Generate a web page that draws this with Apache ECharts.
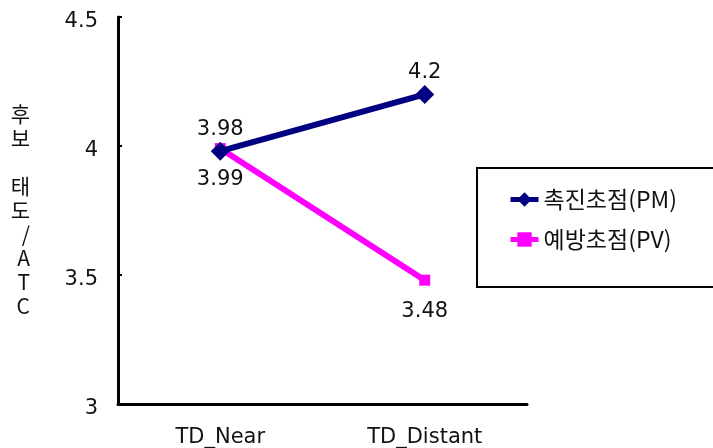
<!DOCTYPE html>
<html>
<head>
<meta charset="utf-8">
<script src="https://cdn.jsdelivr.net/npm/echarts@6/dist/echarts.min.js"></script>
<style>
  html, body { margin: 0; padding: 0; background: #fff; }
  #chart { width: 713px; height: 448px; }
</style>
</head>
<body>
<div id="chart"></div>
<script>
// Construal-level conditions and mean attitude scores per regulatory focus group
const categories = ['TD_Near', 'TD_Distant'];
const promotionValues = [3.98, 4.2];   // 촉진초점(PM)
const preventionValues = [3.99, 3.48]; // 예방초점(PV)
const yTicks = [3, 3.5, 4, 4.5];
const seriesNames = ['촉진초점(PM)', '예방초점(PV)'];
const yAxisTitle = '후\n보\n\n태\n도\n/\nA\nT\nC';

const FONT = '"DejaVu Sans", "Noto Sans CJK KR", sans-serif';
const KR_FONT = '"Noto Sans CJK KR", "DejaVu Sans", sans-serif';
const chart = echarts.init(document.getElementById('chart'));

chart.setOption({
  animation: false,
  backgroundColor: '#fff',
  grid: { left: 118, right: 186, top: 17, bottom: 43 },
  legend: {
    orient: 'vertical',
    left: 503,
    top: 183,
    itemWidth: 28,
    itemHeight: 18,
    itemGap: 17,
    lineStyle: { width: 5 },
    data: seriesNames,
    textStyle: { fontFamily: KR_FONT, fontSize: 23, color: '#111' }
  },
  graphic: [{
    type: 'rect',
    shape: { x: 477, y: 168, width: 300, height: 119 },
    style: { fill: 'none', stroke: '#000', lineWidth: 2 },
    z: -1
  }],
  xAxis: {
    type: 'category',
    data: categories,
    boundaryGap: true,
    axisLine: { lineStyle: { color: '#000', width: 3 } },
    axisTick: { show: false },
    axisLabel: { fontFamily: FONT, fontSize: 21, color: '#111', margin: 23 }
  },
  yAxis: {
    type: 'value',
    min: yTicks[0],
    max: yTicks[yTicks.length - 1],
    interval: 0.5,
    name: yAxisTitle,
    nameLocation: 'middle',
    nameRotate: 0,
    nameGap: 88,
    nameTextStyle: { fontFamily: KR_FONT, fontSize: 21, color: '#111', lineHeight: 24 },
    splitLine: { show: false },
    axisLine: { show: true, lineStyle: { color: '#000', width: 3 } },
    axisTick: { show: true, inside: true, length: 4, lineStyle: { color: '#000', width: 2 } },
    axisLabel: {
      margin: 20,
      formatter: v => '{t|' + v + '}',
      rich: { t: { fontFamily: FONT, fontSize: 21, color: '#111', padding: [9, 0, 0, 0] } }
    }
  },
  series: [
    {
      name: seriesNames[0],
      type: 'line',
      data: promotionValues,
      z: 3,
      symbol: 'diamond',
      symbolSize: 19,
      lineStyle: { color: '#000080', width: 6 },
      itemStyle: { color: '#000080' },
      label: { show: true, position: 'top', distance: 2, fontFamily: FONT, fontSize: 21, color: '#111' }
    },
    {
      name: seriesNames[1],
      type: 'line',
      data: preventionValues,
      z: 2,
      symbol: 'rect',
      symbolSize: 11,
      lineStyle: { color: '#FF00FF', width: 6 },
      itemStyle: { color: '#FF00FF' },
      label: { show: true, position: 'bottom', distance: 15, fontFamily: FONT, fontSize: 21, color: '#111' }
    }
  ]
});
</script>
</body>
</html>
